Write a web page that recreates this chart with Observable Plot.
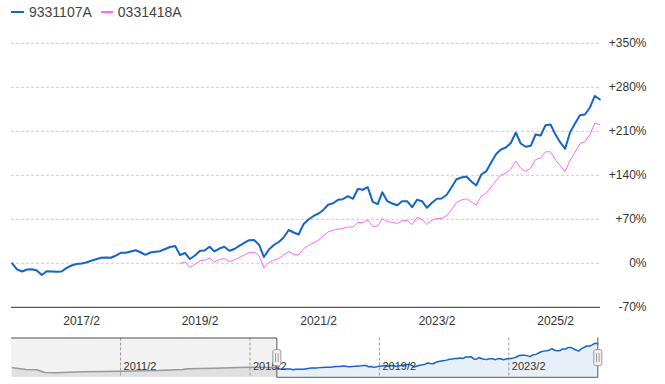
<!DOCTYPE html>
<html><head><meta charset="utf-8">
<script src="https://cdn.jsdelivr.net/npm/d3@7"></script>
<script src="https://cdn.jsdelivr.net/npm/@observablehq/plot@0.6"></script>
<style>
html,body{margin:0;padding:0;background:#fff;}
#wrap{position:relative;width:665px;height:384px;overflow:hidden;font-family:"Liberation Sans",Arial,sans-serif;}
#main{position:absolute;left:0;top:0;}
#nav{position:absolute;left:0;top:330px;}
#legend{position:absolute;left:11px;top:3px;height:18px;display:flex;align-items:center;font-size:14px;color:#444;white-space:nowrap;}
#legend .sym{display:inline-block;}
</style></head><body>
<div id="wrap"><div id="main"></div><div id="nav"></div><div id="legend"></div></div>
<script>
// ---- data ----
const seriesNames = ["9331107A", "0331418A"];
const seriesColors = ["#1565c8", "#ff66ff"];
const startMonth = "2015/12";
const blueValues = [0, -9.9, -13, -9.9, -9.4, -11.5, -18.6, -12.6, -13, -13.5,
  -13, -7.2, -3.5, -1.1, -0.3, 1.3, 4, 6.5, 8.8, 9.2,
  8.8, 12.4, 16.7, 16.7, 18.8, 20.8, 17.2, 13.5, 17.2, 18.3,
  19.3, 22.8, 25.9, 27.5, 13.2, 16.4, 6.8, 12.4, 19.9, 20.4,
  26.3, 18.8, 23.5, 26.3, 19.9, 22.8, 27.8, 32.6, 36.8, 37.1,
  29.1, 10, 22, 29.1, 33.9, 41, 53, 49, 45.8, 62.5,
  69.7, 75.3, 79.2, 84.5, 93.1, 95.6, 101, 102, 106.8, 102.6,
  118.2, 117, 121.1, 97.8, 94, 113.1, 98.8, 95.1, 92.4, 98.8,
  98.8, 89.3, 101, 98.8, 88.3, 96.3, 102.6, 103.1, 108.7, 120.6,
  133.8, 136.5, 138.1, 130.1, 123.8, 141.3, 146.1, 160.4, 173.9, 181.1,
  184.2, 191.4, 208.1, 190.6, 185.4, 186.9, 204.9, 203.3, 219.7, 220.8,
  204.4, 192.7, 182.2, 208.1, 222.4, 235.6, 236.7, 247.9, 266.2, 260.6];
const pinkStartMonth = "2018/10";
const pinkValues = [0, 2.1, -6.7, -1.4, 4, 4.9,
  8.1, 2.1, 6, 7.6, 2.4, 5.6, 9.2, 13.2, 17.2, 17.7,
  11.9, -7.5, 1.3, 4.9, 7.6, 13.2, 18.8, 14.3, 13.2, 23.5,
  28.3, 32.3, 37.1, 43.4, 49.8, 52.5, 54.3, 55.4, 57.8, 57.8,
  64.9, 64.9, 68.9, 58.5, 59.3, 70.8, 66, 65.4, 63.3, 67.6,
  68.1, 61.7, 72.9, 69.7, 61.7, 68.6, 71.3, 71.3, 75.6, 84.8,
  96.7, 100.7, 102.6, 97.5, 92.8, 107.1, 111.1, 121.4, 131.7, 140.2,
  143.7, 150, 162.8, 151.3, 146.1, 151.6, 165.1, 167.5, 177.4, 177.4,
  164.4, 155.6, 146.1, 163.6, 176.8, 190.1, 193.8, 204.9, 223.2, 220.4];
// navigator: history before the selected range (same series, relative %)
const navPreMonths = ["2007/10", "2008/3", "2008/7", "2008/10", "2009/2", "2009/12", "2011/2", "2011/10", "2012/4", "2013/1", "2013/3", "2014/1", "2014/10", "2015/2", "2015/11"];
const navPreValues = [2, -16, -19, -48, -51, -41, -34, -30, -27, -16, -9, -2, 5, 9, 6];
const yTickValues = [-70, 0, 70, 140, 210, 280, 350];
const xTickLabels = ["2017/2", "2019/2", "2021/2", "2023/2", "2025/2"];
const navTickLabels = ["2011/2", "2015/2", "2019/2", "2023/2"];
// scale configuration
const mainXDomain = ["2015-11-27", "2025-11-05"];
const navXDomain = ["2007-09-19", "2025-11-01"];
const navYDomain = [-99.8, 321.9];

// ---- helpers ----
const parseMonth = s => { const [y, m] = s.split("/").map(Number); return new Date(Date.UTC(y, m - 1, 1)); };
const fmtMonth = d => `${d.getUTCFullYear()}/${d.getUTCMonth() + 1}`;
const start = parseMonth(startMonth);
const months = blueValues.map((_, i) => new Date(Date.UTC(start.getUTCFullYear(), start.getUTCMonth() + i, 1)));
const ps = parseMonth(pinkStartMonth);
const pinkOffset = (ps.getUTCFullYear() - start.getUTCFullYear()) * 12 + ps.getUTCMonth() - start.getUTCMonth();
const mainData = months.map((d, i) => ({
  date: d, blue: blueValues[i],
  pink: i >= pinkOffset ? pinkValues[i - pinkOffset] : null
}));
const navPre = navPreMonths.map((m, i) => ({date: parseMonth(m), v: navPreValues[i]}))
  .concat([{date: months[0], v: blueValues[0]}]);
const xTickDates = xTickLabels.map(parseMonth);
const navTickDates = navTickLabels.map(parseMonth);
const mainDomain = mainXDomain.map(s => new Date(s + "T00:00:00Z"));
const navDomain = navXDomain.map(s => new Date(s + "T00:00:00Z"));
const lastMonth = months[months.length - 1];
const font = "'Liberation Sans', Arial, sans-serif";

// ---- legend ----
const legend = document.getElementById("legend");
legend.innerHTML =
  `<span class="sym" style="width:13px;height:2.5px;background:${seriesColors[0]};margin-right:5px"></span><span>${seriesNames[0]}</span>` +
  `<span class="sym" style="width:12px;height:1.5px;background:${seriesColors[1]};margin-left:9px;margin-right:5px"></span><span>${seriesNames[1]}</span>`;

// ---- main chart ----
const main = Plot.plot({
  width: 665, height: 330,
  marginLeft: 11, marginRight: 65, marginTop: 42.8, marginBottom: 23.2,
  style: {fontFamily: font, fontSize: "12px", color: "#333", background: "transparent", overflow: "visible"},
  x: {type: "utc", domain: mainDomain},
  y: {domain: [yTickValues[0], yTickValues[yTickValues.length - 1]]},
  marks: [
    Plot.ruleY(yTickValues.slice(1), {stroke: "#cfcfcf", strokeDasharray: "3,2"}),
    Plot.ruleY([yTickValues[0]], {stroke: "#333"}),
    Plot.line(mainData, {x: "date", y: "pink", stroke: seriesColors[1], strokeWidth: 1}),
    Plot.line(mainData, {x: "date", y: "blue", stroke: seriesColors[0], strokeWidth: 2}),
    Plot.axisY(yTickValues, {anchor: "right", tickSize: 0, tickPadding: 46, textAnchor: "end",
      tickFormat: d => (d > 0 ? "+" : "") + d + "%"}),
    Plot.axisX(xTickDates, {anchor: "bottom", tickSize: 0, tickPadding: 9, tickFormat: fmtMonth})
  ]
});
document.getElementById("main").appendChild(main);

// ---- navigator ----
const handleSymbol = {
  draw(c) {
    const w = 4, h = 8, r = 2;
    c.moveTo(-w + r, -h); c.lineTo(w - r, -h); c.arcTo(w, -h, w, -h + r, r);
    c.lineTo(w, h - r); c.arcTo(w, h, w - r, h, r);
    c.lineTo(-w + r, h); c.arcTo(-w, h, -w, h - r, r);
    c.lineTo(-w, -h + r); c.arcTo(-w, -h, -w + r, -h, r); c.closePath();
    c.moveTo(-1.3, -4.5); c.lineTo(-1.3, 4.5);
    c.moveTo(1.3, -4.5); c.lineTo(1.3, 4.5);
  }
};
const outline = [
  {x: navDomain[0], y: navYDomain[1]},
  {x: months[0], y: navYDomain[1]},
  {x: months[0], y: navYDomain[0]},
  {x: lastMonth, y: navYDomain[0]},
  {x: lastMonth, y: navYDomain[1]}
];
const nav = Plot.plot({
  width: 665, height: 54,
  marginLeft: 11, marginRight: 67.7, marginTop: 7.5, marginBottom: 7.2,
  style: {fontFamily: font, fontSize: "11px", color: "#333", background: "transparent", overflow: "visible"},
  x: {type: "utc", domain: navDomain, axis: null},
  y: {domain: navYDomain, axis: null},
  marks: [
    Plot.rect([0], {x1: () => navDomain[0], x2: () => months[0], fill: "#f2f2f2"}),
    Plot.areaY(navPre, {x: "date", y1: navYDomain[0], y2: "v", fill: "#e0e0e0"}),
    Plot.areaY(mainData, {x: "date", y1: navYDomain[0], y2: "blue", fill: "#e7eff9"}),
    Plot.ruleX(navTickDates, {x: d => d, stroke: "#999", strokeDasharray: "3,2"}),
    Plot.line(navPre, {x: "date", y: "v", stroke: "#999", strokeWidth: 1.5}),
    Plot.line(mainData, {x: "date", y: "blue", stroke: seriesColors[0], strokeWidth: 1.5}),
    Plot.text(navTickDates, {x: d => d, text: fmtMonth, frameAnchor: "bottom", dy: -7.3, dx: 3,
      textAnchor: "start", fill: "#333", fontSize: 11}),
    Plot.line(outline, {x: "x", y: "y", stroke: "#555", strokeWidth: 1, curve: "linear"}),
    Plot.dot([months[0], lastMonth], {x: d => d, symbol: handleSymbol, r: 4, fill: "#f2f2f2", stroke: "#999", strokeWidth: 1})
  ]
});
document.getElementById("nav").appendChild(nav);
</script></body></html>
